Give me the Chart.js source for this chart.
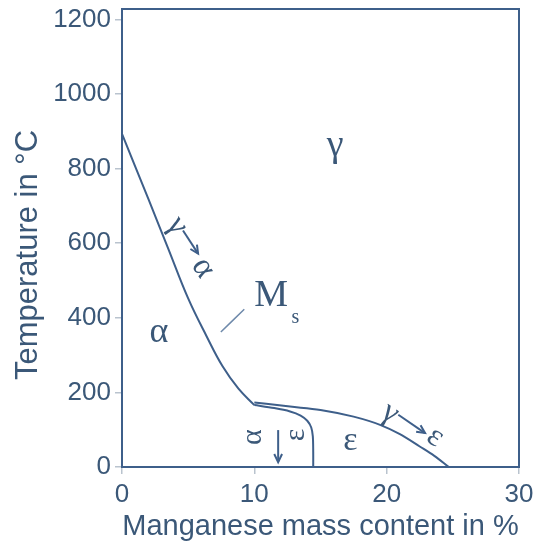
<!DOCTYPE html>
<html><head><meta charset="utf-8">
<script src="https://cdn.jsdelivr.net/npm/chart.js@4"></script>
<style>html,body{margin:0;padding:0;background:#fff;}#wrap{width:534px;height:546px;}</style>
</head><body><div id="wrap"><canvas id="c" width="534" height="546"></canvas></div>
<script>
// x: manganese %, y: temperature °C
const msLine = [[0,893],[2,718],[3.5,585],[5,452],[6.4,350],[7.6,270],[8.8,210],[10,166]];
const gammaEpsLine = [[10,173],[12.7,162],[15,153],[17.5,135],[19.5,113],[21,88],[22.5,55],[23.6,30],[24.7,0]];
const epsAlphaLine = [[10,166],[11.5,158],[12.7,149],[13.5,138],[14.0,124],[14.3,106],[14.42,82],[14.45,40],[14.45,0]];
const msLeader = [[7.47,362],[9.24,423]];
const xTicks = [0,10,20,30];
const yTicks = [0,200,400,600,800,1000,1200];
const xTitle = 'Manganese mass content in %';
const yTitle = 'Temperature in °C';
// phase labels (data coordinates)
const labelText = ['γ','α','M','s','ε','γ','α','γ','ε','α','ε'];
const labelX    = [16.1, 2.8, 11.27, 13.1, 17.25, 4.16, 6.13, 20.27, 23.68, 9.9, 13.16];
const labelY    = [860, 360, 459, 400, 70, 647, 534, 145, 80, 80, 86];
const labelSize = [38, 36, 38, 20, 34, 32, 33, 32, 32, 30, 30];
const labelRot  = [0, 0, 0, 0, 0, 57, 57, 34, 34, -90, -90];
// arrows (data coordinates): [x1,y1,x2,y2]
const arrows = [[4.61,634,5.75,572],[20.88,140,22.9,91],[11.8,99,11.8,13]];

const LINE = '#3e5f8a';
const TEXT = '#3b5878';
const TICK = '#b9c3ce';
const SANS = '"Liberation Sans", Arial, sans-serif';
const toPts = a => a.map(p => ({x:p[0], y:p[1]}));

const annot = {
  id:'annot',
  afterDraw(chart){
    const {ctx, chartArea:a, scales:{x,y}} = chart;
    ctx.save();
    ctx.strokeStyle = LINE; ctx.lineWidth = 2;
    ctx.strokeRect(a.left, a.top, a.right-a.left, a.bottom-a.top);
    ctx.fillStyle = TEXT;
    ctx.textAlign='center'; ctx.textBaseline='middle';
    // y axis title
    ctx.save();
    ctx.translate(28, 255);
    ctx.rotate(-Math.PI/2);
    ctx.font = '31px ' + SANS;
    ctx.fillText(yTitle, 0, 0);
    ctx.restore();
    labelText.forEach((t,i)=>{
      ctx.save();
      ctx.translate(x.getPixelForValue(labelX[i]), y.getPixelForValue(labelY[i]));
      ctx.rotate(labelRot[i]*Math.PI/180);
      ctx.font = labelSize[i]+'px "Liberation Serif", "Times New Roman", serif';
      ctx.fillText(t,0,0);
      ctx.restore();
    });
    ctx.strokeStyle = LINE; ctx.fillStyle = LINE; ctx.lineWidth = 2;
    arrows.forEach(ar=>{
      const x1=x.getPixelForValue(ar[0]), y1=y.getPixelForValue(ar[1]);
      const x2=x.getPixelForValue(ar[2]), y2=y.getPixelForValue(ar[3]);
      const ang=Math.atan2(y2-y1,x2-x1), h=9;
      ctx.beginPath(); ctx.moveTo(x1,y1); ctx.lineTo(x2,y2); ctx.stroke();
      ctx.beginPath();
      ctx.moveTo(x2-h*Math.cos(ang-0.45), y2-h*Math.sin(ang-0.45));
      ctx.lineTo(x2,y2);
      ctx.lineTo(x2-h*Math.cos(ang+0.45), y2-h*Math.sin(ang+0.45));
      ctx.stroke();
    });
    ctx.restore();
  }
};

const ds = (d, extra) => Object.assign({data: toPts(d), borderColor: LINE, borderWidth: 2, pointRadius: 0, showLine: true, fill: false, cubicInterpolationMode: 'monotone'}, extra||{});

new Chart(document.getElementById('c'), {
  type: 'scatter',
  data: { datasets: [
    ds(msLine, {cubicInterpolationMode:'default', tension: 0.4}),
    ds(gammaEpsLine),
    ds(epsAlphaLine, {cubicInterpolationMode:'default', tension: 0.3}),
    ds(msLeader, {borderColor:'#6f8aab', borderWidth:1.5})
  ]},
  options: {
    responsive: false, animation: false,
    layout: { padding: { top: 9, right: 15, left: 0, bottom: 0 } },
    plugins: { legend: {display:false}, tooltip: {enabled:false} },
    scales: {
      x: {
        type:'linear', min:0, max:30,
        afterFit: s => { s.height = 79; s.paddingLeft = 0; s.paddingRight = 0; },
        afterBuildTicks: s => { s.ticks = xTicks.map(v=>({value:v})); },
        grid: { drawOnChartArea:false, drawTicks:true, tickLength:7, color:TICK, lineWidth:1.5 },
        border: { display:true, color:LINE, width:2 },
        ticks: { color:TEXT, padding:5, callback: v => String(v), font:{family:SANS, size:26} },
        title: { display:true, text:xTitle, color:TEXT, padding:{top:0,bottom:2},
                 font:{family:SANS, size:29} }
      },
      y: {
        type:'linear', min:0, max:1228,
        afterFit: s => { s.width = 122; s.paddingTop = 0; s.paddingBottom = 0; },
        afterBuildTicks: s => { s.ticks = yTicks.map(v=>({value:v})); },
        grid: { drawOnChartArea:false, drawTicks:true, tickLength:7, color:TICK, lineWidth:1.5 },
        border: { display:true, color:LINE, width:2 },
        ticks: { color:TEXT, padding:4, callback: v => String(v), font:{family:SANS, size:26} },
        title: { display:false }
      }
    }
  },
  plugins: [annot]
});
</script></body></html>
